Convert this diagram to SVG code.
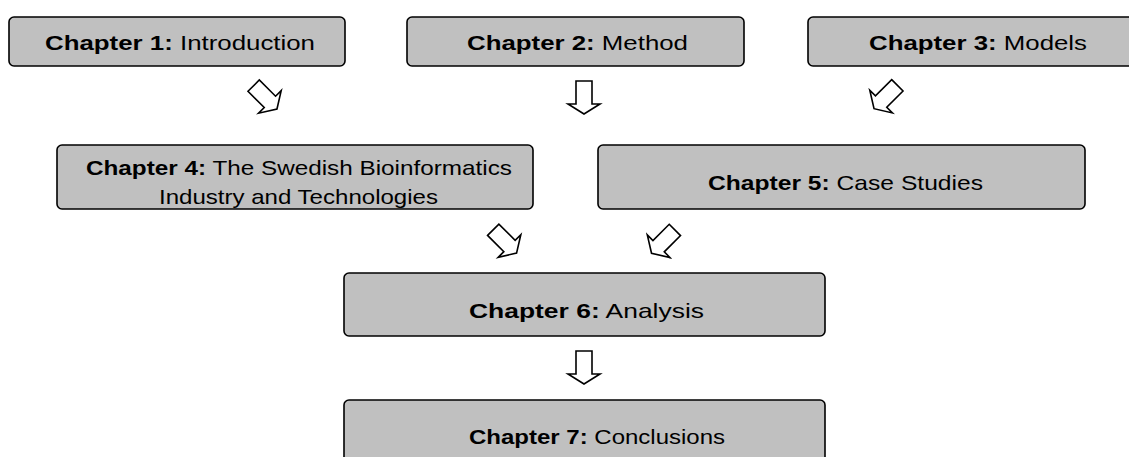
<svg xmlns="http://www.w3.org/2000/svg" width="1129" height="457" viewBox="0 0 1129 457">
<style>
.box{fill:#c0c0c0;stroke:#000;stroke-width:1.6}
.t{font-family:"Liberation Sans",Arial,sans-serif;font-size:21px;fill:#000}
.b{font-weight:bold}
.arr{fill:#fff;stroke:#000;stroke-width:1.6;stroke-linejoin:miter}
</style>
<defs>
<path id="arrow" class="arr" d="M-8,-16.5 H8 V6.5 H16 L0,16.5 L-16,6.5 H-8 Z"/>
</defs>
<rect width="1129" height="457" fill="#fff"/>
<g id="connectors">
<use href="#arrow" transform="translate(265.3,97.3) rotate(-45)"/>
<use href="#arrow" transform="translate(584,97.5)"/>
<use href="#arrow" transform="translate(885.7,97) rotate(45)"/>
<use href="#arrow" transform="translate(504.9,241.4) rotate(-45)"/>
<use href="#arrow" transform="translate(663.2,241.6) rotate(45)"/>
<use href="#arrow" transform="translate(584,367.5)"/>
</g>
<g id="ch1">
<rect class="box" x="9" y="17" width="336" height="49" rx="5"/>
<text class="t" x="45" y="50" textLength="270" lengthAdjust="spacingAndGlyphs"><tspan class="b">Chapter 1:</tspan> Introduction</text>
</g>
<g id="ch2">
<rect class="box" x="407" y="17" width="337" height="49" rx="5"/>
<text class="t" x="467" y="50" textLength="221" lengthAdjust="spacingAndGlyphs"><tspan class="b">Chapter 2:</tspan> Method</text>
</g>
<g id="ch3">
<rect class="box" x="808" y="17" width="340" height="49" rx="5"/>
<text class="t" x="869" y="50" textLength="218" lengthAdjust="spacingAndGlyphs"><tspan class="b">Chapter 3:</tspan> Models</text>
</g>
<g id="ch4">
<rect class="box" x="57" y="145" width="476" height="64" rx="5"/>
<text class="t" x="86" y="175" textLength="426" lengthAdjust="spacingAndGlyphs"><tspan class="b">Chapter 4:</tspan> The Swedish Bioinformatics</text>
<text class="t" x="159" y="204" textLength="279" lengthAdjust="spacingAndGlyphs">Industry and Technologies</text>
</g>
<g id="ch5">
<rect class="box" x="598" y="145" width="487" height="64" rx="5"/>
<text class="t" x="708" y="190" textLength="275" lengthAdjust="spacingAndGlyphs"><tspan class="b">Chapter 5:</tspan> Case Studies</text>
</g>
<g id="ch6">
<rect class="box" x="344" y="273" width="481" height="63" rx="5"/>
<text class="t" x="469" y="318" textLength="235" lengthAdjust="spacingAndGlyphs"><tspan class="b">Chapter 6:</tspan> Analysis</text>
</g>
<g id="ch7">
<rect class="box" x="344" y="400" width="481" height="70" rx="5"/>
<text class="t" x="469" y="444" textLength="256" lengthAdjust="spacingAndGlyphs"><tspan class="b">Chapter 7:</tspan> Conclusions</text>
</g>
</svg>
